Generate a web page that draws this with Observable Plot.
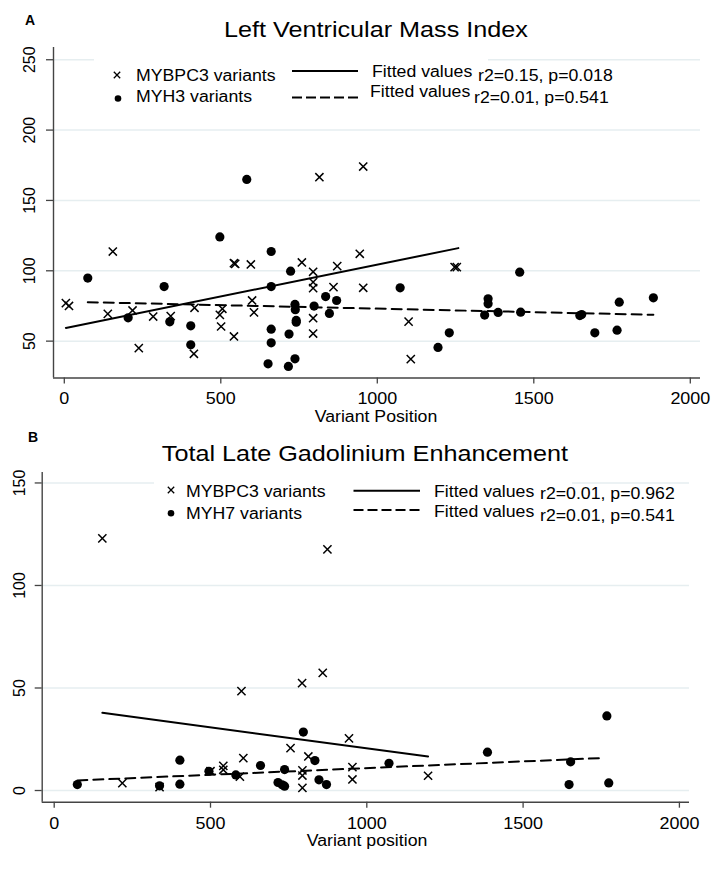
<!DOCTYPE html>
<html><head><meta charset="utf-8">
<script src="https://cdn.jsdelivr.net/npm/d3@7"></script>
<script src="https://cdn.jsdelivr.net/npm/@observablehq/plot@0.6"></script>
<style>
body{margin:0;background:#fff;}
#page{position:relative;width:720px;height:870px;overflow:hidden;font-family:"Liberation Sans",Arial,sans-serif;color:#000;background:#fff;}
.t{position:absolute;white-space:nowrap;line-height:1;}
.l{transform-origin:0 50%;transform:translateY(-50%) scaleX(1.12);}
.c{transform:translate(-50%,-50%) scaleX(1.12);}
.box{position:absolute;background:#fff;}
.plot{position:absolute;left:0;}
</style></head><body><div id="page"></div>
<script>
// ---------- data ----------
const xTicks = [0, 500, 1000, 1500, 2000];
const yTicksA = [50, 100, 150, 200, 250];
const yTicksB = [0, 50, 100, 150];

// Panel A: Left Ventricular Mass Index
const mybpc3PosA = [5, 15, 155, 139, 218, 238, 284, 340, 416, 414, 497, 505, 501, 542, 546, 542, 596, 600, 606, 759, 795, 795, 795, 795, 795, 860, 872, 944, 955, 815, 955, 1247, 1254, 1100, 1107];
const mybpc3ValA = [77, 75, 113.7, 69.4, 71.8, 45.0, 67.5, 67.8, 73.7, 41.0, 68.7, 73.0, 60.4, 105.4, 104.9, 53.3, 104.5, 78.9, 70.4, 105.9, 99.3, 91.9, 87.7, 66.3, 55.4, 88.4, 103.3, 112.1, 87.9, 166.5, 174.1, 102.6, 102.6, 63.9, 37.2];
const myh3PosA = [75, 204, 319, 337, 404, 404, 497, 583, 661, 661, 661, 661, 651, 723, 718, 716, 737, 737, 738, 741, 741, 798, 835, 870, 847, 1073, 1230, 1194, 1354, 1354, 1343, 1386, 1455, 1458, 1647, 1653, 1695, 1766, 1773, 1882];
const myh3ValA = [94.8, 66.6, 88.8, 63.7, 60.9, 47.4, 124.1, 164.9, 113.7, 88.8, 58.5, 48.8, 33.9, 99.7, 55.0, 32.0, 37.4, 76.1, 72.3, 64.7, 63.5, 74.9, 81.7, 78.9, 69.7, 87.9, 55.9, 45.5, 80.1, 76.5, 68.5, 70.4, 99.0, 70.6, 68.2, 68.9, 55.9, 57.8, 77.7, 80.8];
const fitMybpc3PosA = [5, 1259];
const fitMybpc3ValA = [59.4, 116.1];
const fitMyh3PosA = [75, 1882];
const fitMyh3ValA = [77.7, 68.7];

// Panel B: Total Late Gadolinium Enhancement
const mybpc3PosB = [154, 874, 599, 793, 859, 943, 756, 813, 605, 541, 541, 500, 218, 337, 594, 794, 794, 794, 954, 954, 1196];
const mybpc3ValB = [123, 117.6, 48.5, 52.4, 57.4, 25.4, 20.7, 16.6, 15.8, 12.0, 10.1, 9.4, 3.6, 1.6, 6.8, 9.8, 7.3, 1.3, 11.4, 5.4, 7.2];
const myh7PosB = [74, 402, 402, 337, 495, 581, 660, 737, 716, 737, 729, 797, 834, 847, 871, 1071, 1386, 1652, 1647, 1768, 1774];
const myh7ValB = [2.9, 14.8, 3.1, 2.3, 9.4, 7.6, 12.2, 10.2, 3.9, 2.1, 2.8, 28.5, 14.6, 5.2, 2.9, 13.3, 18.7, 14.0, 2.9, 36.4, 3.7];
const fitMybpc3PosB = [154, 1196];
const fitMybpc3ValB = [37.9, 16.6];
const fitMyh7PosB = [74, 1761];
const fitMyh7ValB = [4.9, 15.9];

// ---------- helpers ----------
const FONT = '"Liberation Sans", Arial, sans-serif';
const zip = (xs, ys) => xs.map((x, i) => ({x, y: ys[i]}));
const page = document.getElementById("page");
const fmt = d3.format("d");

function panel({xDomain, yDomain, yTicks, pts1, pts2, fit1, fit2, height, mt, mb, ml, mr, yPad}) {
  return Plot.plot({
    width: 720, height,
    marginTop: mt, marginBottom: mb, marginLeft: ml, marginRight: mr,
    style: {fontFamily: FONT, fontSize: "16px", color: "#000", background: "transparent", overflow: "visible"},
    x: {domain: xDomain},
    y: {domain: yDomain},
    marks: [
      Plot.gridY(yTicks, {stroke: "#e6eef0", strokeOpacity: 1, strokeWidth: 1.5}),
      Plot.line(fit1, {x: "x", y: "y", stroke: "#000", strokeWidth: 2}),
      Plot.line(fit2, {x: "x", y: "y", stroke: "#000", strokeWidth: 2, strokeDasharray: "10,6"}),
      Plot.dot(pts1, {x: "x", y: "y", symbol: "times", r: 3.8, stroke: "#000", strokeWidth: 1.5}),
      Plot.dot(pts2, {x: "x", y: "y", symbol: "circle", r: 4.6, fill: "#000", stroke: null}),
      Plot.ruleX([xDomain[0]], {stroke: "#444", strokeWidth: 1.4}),
      Plot.ruleY([yDomain[0]], {stroke: "#444", strokeWidth: 1.4}),
      Plot.axisX({ticks: xTicks, tickFormat: fmt, tickSize: 6, tickPadding: 9, label: null, stroke: "#444", strokeWidth: 1.3}),
      Plot.axisY({ticks: yTicks, tickFormat: fmt, tickSize: 7, tickPadding: yPad, tickRotate: -90, label: null, stroke: "#444", strokeWidth: 1.3})
    ]
  });
}

function place(svg, top) {
  const wrap = document.createElement("div");
  wrap.className = "plot";
  wrap.style.top = top + "px";
  wrap.appendChild(svg);
  page.appendChild(wrap);
  svg.querySelectorAll('g[aria-label="x-axis tick label"] text').forEach(t => {
    const w = t.getComputedTextLength();
    t.setAttribute("textLength", w * 1.12);
    t.setAttribute("lengthAdjust", "spacingAndGlyphs");
  });
}

function text(str, x, y, size, cls, extra) {
  const d = document.createElement("div");
  d.className = "t " + cls;
  d.textContent = str;
  d.style.left = x + "px";
  d.style.top = y + "px";
  d.style.fontSize = size + "px";
  if (extra) Object.assign(d.style, extra);
  page.appendChild(d);
}
function box(x0, y0, x1, y1) {
  const d = document.createElement("div");
  d.className = "box";
  Object.assign(d.style, {left: x0 + "px", top: y0 + "px", width: (x1 - x0) + "px", height: (y1 - y0) + "px"});
  page.appendChild(d);
}

// ---------- panels ----------
place(panel({
  xDomain: [-34.5, 2032.6], yDomain: [23.8, 258.7], yTicks: yTicksA,
  pts1: zip(mybpc3PosA, mybpc3ValA), pts2: zip(myh3PosA, myh3ValA),
  fit1: zip(fitMybpc3PosA, fitMybpc3ValA), fit2: zip(fitMyh3PosA, fitMyh3ValA),
  height: 390, mt: 7, mb: 52.5, ml: 53, mr: 20, yPad: 12
}), 40);

place(panel({
  xDomain: [-38.4, 2032.3], yDomain: [-5.7, 155.1], yTicks: yTicksB,
  pts1: zip(mybpc3PosB, mybpc3ValB), pts2: zip(myh7PosB, myh7ValB),
  fit1: zip(fitMybpc3PosB, fitMybpc3ValB), fit2: zip(fitMyh7PosB, fitMyh7ValB),
  height: 400, mt: 2, mb: 68.3, ml: 41.7, mr: 31, yPad: 10
}), 470);

// legend background boxes
box(94, 52, 488, 112);
box(154, 476, 572, 528);

// legend graphics
const ns = "http://www.w3.org/2000/svg";
const ov = document.createElementNS(ns, "svg");
ov.setAttribute("width", 720); ov.setAttribute("height", 870);
Object.assign(ov.style, {position: "absolute", left: 0, top: 0, pointerEvents: "none"});
function el(tag, attrs) { const e = document.createElementNS(ns, tag); for (const k in attrs) e.setAttribute(k, attrs[k]); ov.appendChild(e); }
function cross(cx, cy, h) { el("path", {d: `M${cx-h},${cy-h}L${cx+h},${cy+h}M${cx-h},${cy+h}L${cx+h},${cy-h}`, stroke: "#000", "stroke-width": 1.3}); }
cross(117, 75, 3.2); el("circle", {cx: 118, cy: 98.5, r: 3.3, fill: "#000"});
el("line", {x1: 292, x2: 358, y1: 71, y2: 71, stroke: "#000", "stroke-width": 2});
el("line", {x1: 292, x2: 358, y1: 97.5, y2: 97.5, stroke: "#000", "stroke-width": 2, "stroke-dasharray": "10,4"});
cross(171, 490, 3.2); el("circle", {cx: 171, cy: 513.3, r: 3.3, fill: "#000"});
el("line", {x1: 353.5, x2: 420, y1: 490.7, y2: 490.7, stroke: "#000", "stroke-width": 2});
el("line", {x1: 353.5, x2: 420, y1: 510, y2: 510, stroke: "#000", "stroke-width": 2, "stroke-dasharray": "10,4"});
page.appendChild(ov);

// texts
text("A", 30, 20, 14, "c", {fontWeight: "bold", transform: "translate(-50%,-50%)"});
text("Left Ventricular Mass Index", 376, 30, 22.5, "c");
text("Variant Position", 376, 417, 15.8, "c");
text("MYBPC3 variants", 136, 75.5, 15.8, "l");
text("MYH3 variants", 136, 96.5, 15.8, "l");
text("Fitted values", 372, 71.7, 15.8, "l");
text("Fitted values", 370, 92.3, 15.8, "l");
text("r2=0.15, p=0.018", 477.5, 75.7, 15.8, "l");
text("r2=0.01, p=0.541", 474, 97.5, 15.8, "l");

text("B", 33, 437, 14, "c", {fontWeight: "bold", transform: "translate(-50%,-50%)"});
text("Total Late Gadolinium Enhancement", 365, 454, 22.5, "c");
text("Variant position", 367, 841, 15.8, "c");
text("MYBPC3 variants", 186, 491.7, 15.8, "l");
text("MYH7 variants", 186, 514.3, 15.8, "l");
text("Fitted values", 434, 491.7, 15.8, "l");
text("Fitted values", 434, 511.7, 15.8, "l");
text("r2=0.01, p=0.962", 539.5, 494, 15.8, "l");
text("r2=0.01, p=0.541", 539.5, 515.7, 15.8, "l");
</script>
</body></html>
